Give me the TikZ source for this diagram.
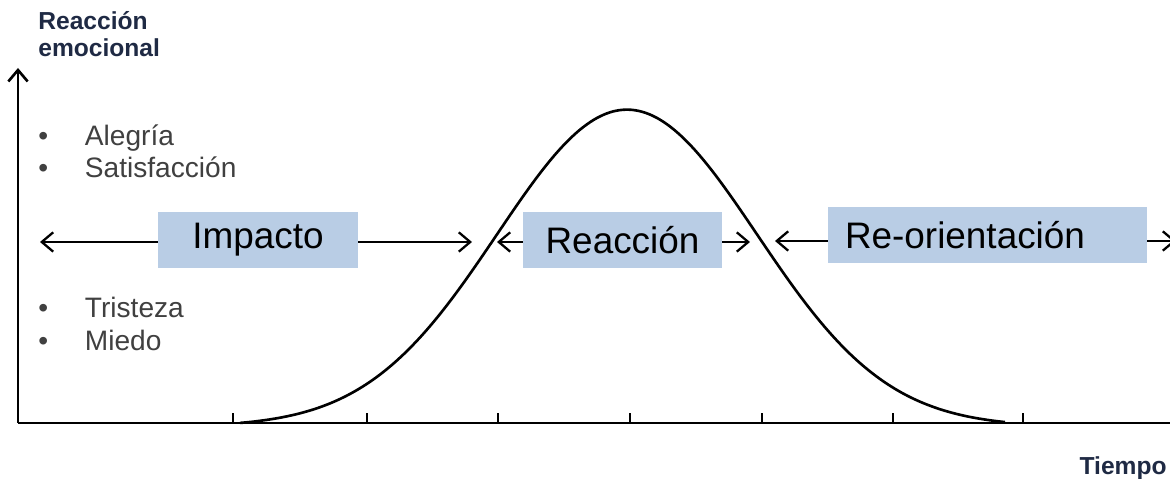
\documentclass[tikz,border=0pt]{standalone}
\usepackage{fontspec}
\setmainfont{Liberation Sans}
\usetikzlibrary{arrows.meta, positioning}
\definecolor{boxblue}{HTML}{B9CDE5}
\definecolor{labelnavy}{HTML}{1F2A44}
\definecolor{moodgray}{HTML}{404040}

\begin{document}
\begin{tikzpicture}[x=0.02cm, y=0.02cm,
  axis/.style={line width=1.5pt},
  axistick/.style={line width=0.8pt},
  span/.style={-{Straight Barb[length=6.5pt,width=11pt]}, line width=1.3pt},
  phase/.style={rectangle, fill=boxblue, inner sep=0pt, minimum height=1.12cm,
                font=\fontsize{21}{25}\selectfont},
  axislabel/.style={font=\fontsize{14}{15.4}\selectfont\bfseries, text=labelnavy,
                    inner sep=0pt},
  mood/.style={font=\fontsize{16}{19}\selectfont, text=moodgray,
               anchor=base west, inner sep=0pt}
]
\useasboundingbox (0,0) rectangle (1170,479);

% axes
\coordinate (origin) at (18,56);
\coordinate (ytop) at (18,411);
\coordinate (xend) at (1172,56);
\draw[span, line width=1.5pt] (origin) -- (ytop);
\draw[axis] (origin) -- (xend);
\foreach \t in {233,367,498,630,762,893,1023}
  \draw[axistick] (\t,56) -- (\t,66);

% curve
\draw[axis, line join=round] plot[domain=240:1005, samples=120, smooth]
  (\x, {52.3 + 317*exp(-0.5*((\x-627)/130)^2)});

% labels
\node[axislabel, anchor=north west, align=left] (ylabel) at (38,468)
  {Reacción\\emocional};
\node[axislabel, anchor=base east] (xlabel) at (1167,4) {Tiempo};

\node[mood] (alegria) at (38,333) {\makebox[26.5pt][l]{•}Alegría};
\node[mood] (satisf) at (38,301) {\makebox[26.5pt][l]{•}Satisfacción};
\node[mood] (tristeza) at (38,161) {\makebox[26.5pt][l]{•}Tristeza};
\node[mood] (miedo) at (38,128) {\makebox[26.5pt][l]{•}Miedo};

% phases
\node[phase, minimum width=4cm] (impacto) at (258,239) {Impacto};
\node[phase, minimum width=3.98cm] (reaccion) at (622.5,239) {Reacción};
\node[phase, text width=5.7cm, inner xsep=0.34cm, align=left]
  (reorient) at (987.5,244) {Re-orientación};

\coordinate (impL) at (40,237);
\coordinate (impR) at (472,237);
\coordinate (reaL) at (497,237);
\coordinate (reaR) at (750,237);
\coordinate (reoL) at (775,238);
\coordinate (reoR) at (1176,238);

\draw[span] (impacto.west |- impL) -- (impL);
\draw[span] (impacto.east |- impR) -- (impR);
\draw[span] (reaccion.west |- reaL) -- (reaL);
\draw[span] (reaccion.east |- reaR) -- (reaR);
\draw[span] (reorient.west |- reoL) -- (reoL);
\draw[span] (reorient.east |- reoR) -- (reoR);

\end{tikzpicture}
\end{document}
